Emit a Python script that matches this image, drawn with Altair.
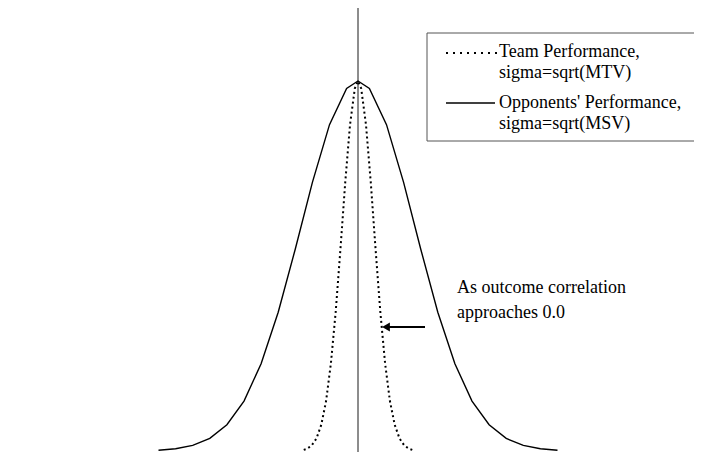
import altair as alt
import pandas as pd

# Opponents' performance curve (solid), x in units of its sigma, y relative height
opp_x = [-3.5, -3.2, -2.9, -2.6, -2.3, -2.0, -1.7, -1.4, -1.1, -0.8, -0.5, -0.2, 0.0,
         0.2, 0.5, 0.8, 1.1, 1.4, 1.7, 2.0, 2.3, 2.6, 2.9, 3.2, 3.5]
opp_y = [0.002, 0.006, 0.015, 0.034, 0.071, 0.135, 0.236, 0.375, 0.546, 0.726, 0.882, 0.980, 1.000,
         0.980, 0.882, 0.726, 0.546, 0.375, 0.236, 0.135, 0.071, 0.034, 0.015, 0.006, 0.002]

# Team performance curve (dotted)
team_x = [-0.952, -0.896, -0.812, -0.728, -0.644, -0.560, -0.476, -0.392, -0.308, -0.224, -0.140, -0.056, 0.0,
          0.056, 0.140, 0.224, 0.308, 0.392, 0.476, 0.560, 0.644, 0.728, 0.812, 0.896, 0.952]
team_y = [0.003, 0.006, 0.015, 0.034, 0.071, 0.135, 0.236, 0.375, 0.546, 0.726, 0.882, 0.980, 1.000,
          0.980, 0.882, 0.726, 0.546, 0.375, 0.236, 0.135, 0.071, 0.034, 0.015, 0.006, 0.003]

legend_lines = ["Team Performance,", "sigma=sqrt(MTV)", "Opponents' Performance,", "sigma=sqrt(MSV)"]
note_lines = ["As outcome correlation", "approaches 0.0"]

FONT = "Liberation Serif"
FS = 18
W, H = 686, 444

xs = alt.Scale(domain=[-6.1404, 5.8947], nice=False, zero=False)
ys = alt.Scale(domain=[-0.0027, 1.1973], nice=False, zero=False)

opp_df = pd.DataFrame({"x": opp_x, "y": opp_y})
team_df = pd.DataFrame({"x": team_x, "y": team_y})
one = pd.DataFrame({"a": [0.0]})

center = alt.Chart(one).mark_rule(color="#808080", strokeWidth=1.8).encode(
    x=alt.X("a:Q", scale=xs, axis=None)
)

opp = alt.Chart(opp_df).mark_line(color="black", strokeWidth=1.4).encode(
    x=alt.X("x:Q", scale=xs, axis=None),
    y=alt.Y("y:Q", scale=ys, axis=None),
    order="x:Q",
)
team = alt.Chart(team_df).mark_line(color="black", strokeWidth=2, strokeDash=[2, 3]).encode(
    x=alt.X("x:Q", scale=xs, axis=None),
    y=alt.Y("y:Q", scale=ys, axis=None),
    order="x:Q",
)

layers = [center, opp, team]

# legend box (open on the right)
box_col = "#555555"
layers.append(alt.Chart(one).mark_rule(color=box_col, strokeWidth=1).encode(
    x=alt.value(419), x2=alt.value(W), y=alt.value(25)))
layers.append(alt.Chart(one).mark_rule(color=box_col, strokeWidth=1).encode(
    x=alt.value(419), x2=alt.value(W), y=alt.value(133)))
layers.append(alt.Chart(one).mark_rule(color=box_col, strokeWidth=1).encode(
    x=alt.value(419), y=alt.value(25), y2=alt.value(133)))

# legend samples
layers.append(alt.Chart(one).mark_rule(color="black", strokeWidth=2, strokeDash=[2, 5]).encode(
    x=alt.value(438), x2=alt.value(489), y=alt.value(45)))
layers.append(alt.Chart(one).mark_rule(color="black", strokeWidth=1.4).encode(
    x=alt.value(438), x2=alt.value(487), y=alt.value(95)))

legend_y = [44, 65, 95, 116]
for txt, yy in zip(legend_lines, legend_y):
    layers.append(alt.Chart(one).mark_text(
        font=FONT, fontSize=FS, align="left", baseline="middle", color="black"
    ).encode(x=alt.value(491), y=alt.value(yy), text=alt.value(txt)))

note_y = [280, 305]
for txt, yy in zip(note_lines, note_y):
    layers.append(alt.Chart(one).mark_text(
        font=FONT, fontSize=FS, align="left", baseline="middle", color="black"
    ).encode(x=alt.value(449), y=alt.value(yy), text=alt.value(txt)))

# arrow
layers.append(alt.Chart(one).mark_rule(color="black", strokeWidth=2).encode(
    x=alt.value(380), x2=alt.value(417), y=alt.value(319)))
layers.append(alt.Chart(one).mark_point(shape="triangle-left", filled=True, color="black",
                                        size=80, opacity=1).encode(
    x=alt.value(378), y=alt.value(319)))

chart = alt.layer(*layers).properties(
    width=W, height=H, padding=0,
    autosize=alt.AutoSizeParams(type="none"),
).configure_view(stroke=None)

chart.save("out.html", embed_options={"renderer": "svg", "actions": False})
